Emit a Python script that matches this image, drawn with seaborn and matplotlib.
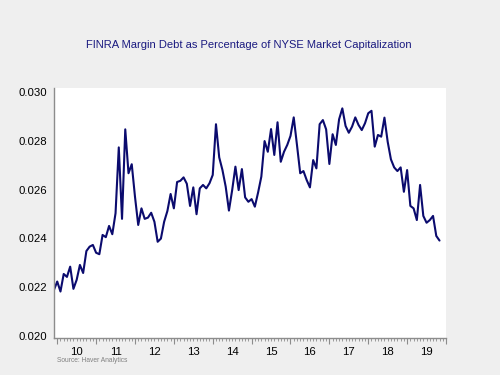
import matplotlib
matplotlib.use("Agg")
import matplotlib.pyplot as plt
import seaborn as sns
import pandas as pd
import numpy as np
from matplotlib.ticker import FixedLocator, MultipleLocator, NullFormatter

title = "FINRA Margin Debt as Percentage of NYSE Market Capitalization"
source = "Source: Haver Analytics"
start_month = "2009-12-01"
year_labels = ["10", "11", "12", "13", "14", "15", "16", "17", "18", "19"]
y_ticks = [0.020, 0.022, 0.024, 0.026, 0.028, 0.030]

ratio = [
    0.02189, 0.02223, 0.02182, 0.02254, 0.02242, 0.02284, 0.02193, 0.02230, 0.02291, 0.02258,
    0.02348, 0.02366, 0.02373, 0.02341, 0.02335, 0.02414, 0.02405, 0.02451, 0.02417, 0.02503,
    0.02773, 0.02480, 0.02847, 0.02667, 0.02704, 0.02571, 0.02455, 0.02523, 0.02480, 0.02485,
    0.02505, 0.02468, 0.02386, 0.02399, 0.02468, 0.02512, 0.02582, 0.02523, 0.02631, 0.02636,
    0.02650, 0.02624, 0.02533, 0.02609, 0.02499, 0.02605, 0.02619, 0.02605, 0.02626, 0.02660,
    0.02868, 0.02732, 0.02680, 0.02612, 0.02514, 0.02598, 0.02694, 0.02598, 0.02684, 0.02568,
    0.02550, 0.02561, 0.02530, 0.02588, 0.02653, 0.02799, 0.02755, 0.02848, 0.02742, 0.02876,
    0.02714, 0.02755, 0.02783, 0.02820, 0.02896, 0.02783, 0.02667, 0.02676, 0.02639, 0.02609,
    0.02721, 0.02687, 0.02868, 0.02885, 0.02847, 0.02705, 0.02827, 0.02783, 0.02888, 0.02933,
    0.02861, 0.02833, 0.02858, 0.02896, 0.02865, 0.02844, 0.02872, 0.02913, 0.02923, 0.02776,
    0.02824, 0.02817, 0.02895, 0.02796, 0.02724, 0.02691, 0.02676, 0.02691, 0.02591, 0.02680,
    0.02533, 0.02523, 0.02475, 0.02619, 0.02492, 0.02464, 0.02475, 0.02492, 0.02410, 0.02391,
]

dates = pd.date_range(start_month, periods=len(ratio), freq="MS")
df = pd.DataFrame({
    "t": dates.year + (dates.month - 1) / 12.0,
    "ratio": ratio,
})

sns.set_theme(style="white")
plt.rcParams["font.family"] = ["Liberation Sans", "DejaVu Sans"]

bg = "#efefef"
navy = "#0b0b6e"
axis_gray = "#8c8c8c"

fig = plt.figure(figsize=(5, 3.75), dpi=100, facecolor=bg)
ax = fig.add_axes([0.108, 0.099, 0.784, 0.666])
ax.set_facecolor("white")

sns.lineplot(data=df, x="t", y="ratio", ax=ax, color=navy, linewidth=1.5)

ax.set_xlim(2009.917, 2020.0)
ax.set_ylim(0.01992, 0.03016)
ax.set_xlabel("")
ax.set_ylabel("")

for s in ["top", "right"]:
    ax.spines[s].set_visible(False)
for s in ["left", "bottom"]:
    ax.spines[s].set_color(axis_gray)
    ax.spines[s].set_linewidth(1.0)

ax.set_yticks(y_ticks)
ax.set_yticklabels([f"{v:.3f}" for v in y_ticks])
ax.tick_params(axis="y", length=0, pad=5, labelsize=8.2, labelcolor="black")

years = np.arange(2010, 2020)
ax.xaxis.set_major_locator(FixedLocator(list(years) + [2020]))
ax.xaxis.set_major_formatter(NullFormatter())
ax.xaxis.set_minor_locator(MultipleLocator(1 / 12))
ax.tick_params(axis="x", which="major", direction="out", length=4, width=0.8, color=axis_gray, bottom=True)
ax.tick_params(axis="x", which="minor", direction="out", length=2, width=0.6, color=axis_gray, bottom=True)

for yr, lab in zip(years, year_labels):
    ax.text(yr + 0.5, -0.035, lab, transform=ax.get_xaxis_transform(),
            ha="center", va="top", fontsize=8.2, color="black")

fig.text(0.497, 0.88, title, ha="center", va="center", fontsize=8, color="#1a1a80")
fig.text(0.114, 0.038, source, ha="left", va="center", fontsize=4.8, color="#808080")

fig.savefig("out.png", dpi=100, facecolor=bg)
